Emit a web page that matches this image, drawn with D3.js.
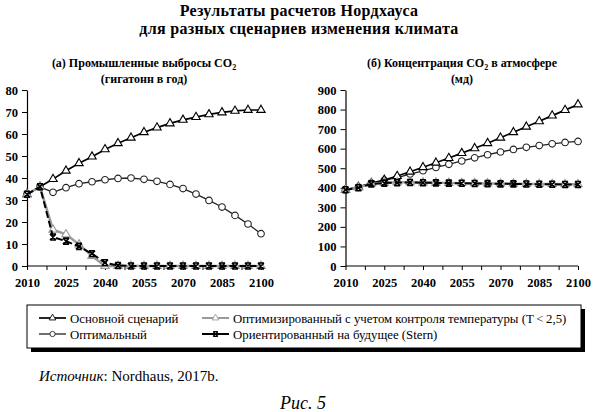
<!DOCTYPE html>
<html>
<head>
<meta charset="utf-8">
<script src="https://cdn.jsdelivr.net/npm/d3@7"></script>
<style>
  body { margin: 0; background: #fff; }
  svg text { font-family: 'Liberation Serif', 'DejaVu Serif', serif !important; }
</style>
</head>
<body>
<div id="chart"></div>
<script>
// DATA ------------------------
const years = [2010, 2015, 2020, 2025, 2030, 2035, 2040, 2045, 2050, 2055,
  2060, 2065, 2070, 2075, 2080, 2085, 2090, 2095, 2100];
const xTickLabels = [2010, 2025, 2040, 2055, 2070, 2085, 2100];

// (a) industrial emissions, Gt per year
const emBase = [32.6, 36, 39.5, 43.3, 46.7, 49.7, 53, 55.8, 58.3, 60.8,
  62.9, 64.8, 66.4, 67.7, 68.9, 69.8, 70.5, 70.9, 70.9];
const emOpt = [32.6, 36, 33.5, 35.6, 37.4, 38.3, 39.2, 39.8, 40, 39.4,
  38.5, 37.1, 35.2, 32.7, 29.8, 26.8, 23, 19.1, 14.7];
const emTemp = [32.6, 36, 16.5, 14.4, 9.8, 4.5, 0, 0, 0, 0,
  0, 0, 0, 0, 0, 0, 0, 0, 0];
const emStern = [32.6, 36, 13.2, 11.3, 8.9, 5.6, 1.5, 0.2, 0, 0,
  0, 0, 0, 0, 0, 0, 0, 0, 0];
const emTicks = [0, 10, 20, 30, 40, 50, 60, 70, 80];

// (б) atmospheric concentration, ppm
const cBase = [390, 404, 424, 440, 460, 482, 505, 528, 552, 577,
  602, 628, 656, 684, 712, 740, 769, 797, 826];
const cOpt = [390, 404, 424, 438, 452, 470, 487, 504, 520, 537,
  553, 569, 583, 596, 607, 616, 625, 632, 637];
const cTemp = [390, 401, 421, 426, 428, 428, 427, 426, 425, 424,
  423, 422, 421, 421, 420, 419, 419, 418, 418];
const cStern = [390, 400, 420, 424, 426, 427, 426, 425, 424, 423,
  422, 421, 420, 420, 419, 418, 418, 417, 417];
const cTicks = [0, 100, 200, 300, 400, 500, 600, 700, 800, 900];

const seriesNames = [
  'Основной сценарий',
  'Оптимальный',
  'Оптимизированный с учетом контроля температуры (T\u2009<\u20092,5)',
  'Ориентированный на будущее (Stern)',
];

// CHART -----------------------
const w = 595;
const h = 412;

const svg = d3
  .select('#chart')
  .append('svg')
  .attr('width', w)
  .attr('height', h);

svg.append('rect').attr('width', w).attr('height', h).attr('fill', '#fff');

// titles
const title = svg
  .append('g')
  .attr('font-weight', 'bold')
  .attr('font-size', 16)
  .attr('text-anchor', 'middle');
title.append('text').attr('x', 299).attr('y', 16).attr('letter-spacing', 0.3)
  .text('Результаты расчетов Нордхауса');
title.append('text').attr('x', 299).attr('y', 34).attr('letter-spacing', 0.3)
  .text('для разных сценариев изменения климата');

const subTitle = (cx, line1, line2) => {
  const g = svg
    .append('g')
    .attr('font-weight', 'bold')
    .attr('font-size', 12)
    .attr('text-anchor', 'middle');
  const t = g.append('text').attr('x', cx).attr('y', 67);
  t.append('tspan').text(line1[0]);
  t.append('tspan').attr('font-size', 8).attr('dy', 3).text('2');
  t.append('tspan').attr('dy', -3).text(line1[1]);
  g.append('text').attr('x', cx).attr('y', 83).text(line2);
};
subTitle(144, ['(а) Промышленные выбросы CO', ''], '(гигатонн в год)');
subTitle(462, ['(б) Концентрация CO', ' в атмосфере'], '(мд)');

// markers
const triPath = d3.symbol().type(d3.symbolTriangle).size(30)();
const starPath = 'M-3,-3L3,3M3,-3L-3,3M-3,-3L3,-3M-3,3L3,3';

const styles = [
  { stroke: '#000', width: 1.7, dash: null, marker: 'tri', mStroke: '#000' },
  { stroke: '#222', width: 1.3, dash: null, marker: 'circle', mStroke: '#222' },
  { stroke: '#9a9a9a', width: 2.4, dash: null, marker: 'tri', mStroke: '#9a9a9a' },
  { stroke: '#000', width: 2, dash: '7,3', marker: 'star', mStroke: '#000' },
];

const drawMarker = (sel, st) => {
  if (st.marker === 'circle') {
    sel.append('circle').attr('r', 3.3).attr('fill', '#fff')
      .attr('stroke', st.mStroke).attr('stroke-width', 1.1);
  } else if (st.marker === 'tri') {
    sel.append('path').attr('d', triPath).attr('fill', '#fff')
      .attr('stroke', st.mStroke).attr('stroke-width', 1.1);
  } else {
    sel.append('path').attr('d', starPath).attr('fill', 'none')
      .attr('stroke', st.mStroke).attr('stroke-width', 1.6);
  }
};

const drawPanel = (x0, x1, yMax, yTicks, series) => {
  const xScale = d3.scaleLinear().domain([2010, 2100]).range([x0, x1]);
  const yScale = d3.scaleLinear().domain([0, yMax]).range([266, 90]);
  const graph = svg.append('g');

  // AXES
  const tickYears = d3.range(2010, 2100.1, 7.5);
  const xAxis = d3
    .axisBottom(xScale)
    .tickValues(tickYears)
    .tickSize(4)
    .tickPadding(8)
    .tickFormat((d) => (xTickLabels.includes(d) ? d : ''));
  const yAxis = d3
    .axisLeft(yScale)
    .tickValues(yTicks)
    .tickSize(5)
    .tickPadding(4)
    .tickSizeOuter(0);

  const gX = graph.append('g').attr('transform', 'translate(0,266)').call(xAxis);
  const gY = graph.append('g').attr('transform', `translate(${x0},0)`).call(yAxis);
  [gX, gY].forEach((g) => {
    g.attr('font-family', null);
    g.select('.domain').attr('stroke', '#000').attr('stroke-width', 1.2);
    g.selectAll('.tick line').attr('stroke', '#000');
    g.selectAll('text')
      .attr('font-weight', 'bold')
      .attr('font-size', 12.5)
      .attr('fill', '#000');
  });
  gX.select('.domain').attr('d', `M${x0},0H${x1}`);

  // LINES
  const line = d3
    .line()
    .x((d, i) => xScale(years[i]))
    .y((d) => yScale(d));

  [1, 0, 2, 3].forEach((k) => {
    const st = styles[k];
    graph
      .append('path')
      .datum(series[k])
      .attr('fill', 'none')
      .attr('stroke', st.stroke)
      .attr('stroke-width', st.width)
      .attr('stroke-dasharray', st.dash)
      .attr('d', line);
    graph
      .append('g')
      .selectAll('g')
      .data(series[k])
      .enter()
      .append('g')
      .attr('transform', (d, i) => `translate(${xScale(years[i])},${yScale(d)})`)
      .each(function () {
        drawMarker(d3.select(this), st);
      });
  });
};

drawPanel(27, 261, 80, emTicks, [emBase, emOpt, emTemp, emStern]);
drawPanel(345.5, 578, 900, cTicks, [cBase, cOpt, cTemp, cStern]);

// LEGEND ----------------------
const legend = svg.append('g');
legend.append('rect').attr('x', 31).attr('y', 309).attr('width', 554).attr('height', 43).attr('fill', '#000');
legend.append('rect').attr('x', 27).attr('y', 305).attr('width', 554).attr('height', 43)
  .attr('fill', '#fff').attr('stroke', '#000').attr('stroke-width', 1);

const legendPos = [
  { x: 39, y: 318 },
  { x: 39, y: 334 },
  { x: 202, y: 318 },
  { x: 202, y: 334 },
];
seriesNames.forEach((name, k) => {
  const st = styles[k];
  const p = legendPos[k];
  const item = legend.append('g').attr('transform', `translate(${p.x},${p.y})`);
  item.append('line').attr('x1', 0).attr('x2', 27)
    .attr('stroke', st.stroke).attr('stroke-width', Math.min(st.width, 2));
  const m = item.append('g').attr('transform', 'translate(13.5,0) scale(0.8)');
  drawMarker(m, st);
  item.append('text').attr('x', 31).attr('y', 4.5).attr('font-size', 12.8).text(name);
});

// SOURCE ----------------------
const src = svg.append('text').attr('x', 39).attr('y', 381).attr('font-size', 15);
src.append('tspan').attr('font-style', 'italic').text('Источник');
src.append('tspan').text(': Nordhaus, 2017b.');

svg.append('text')
  .attr('x', 303)
  .attr('y', 409)
  .attr('text-anchor', 'middle')
  .attr('font-size', 18)
  .attr('font-style', 'italic')
  .text('Рис. 5');
</script>
</body>
</html>
